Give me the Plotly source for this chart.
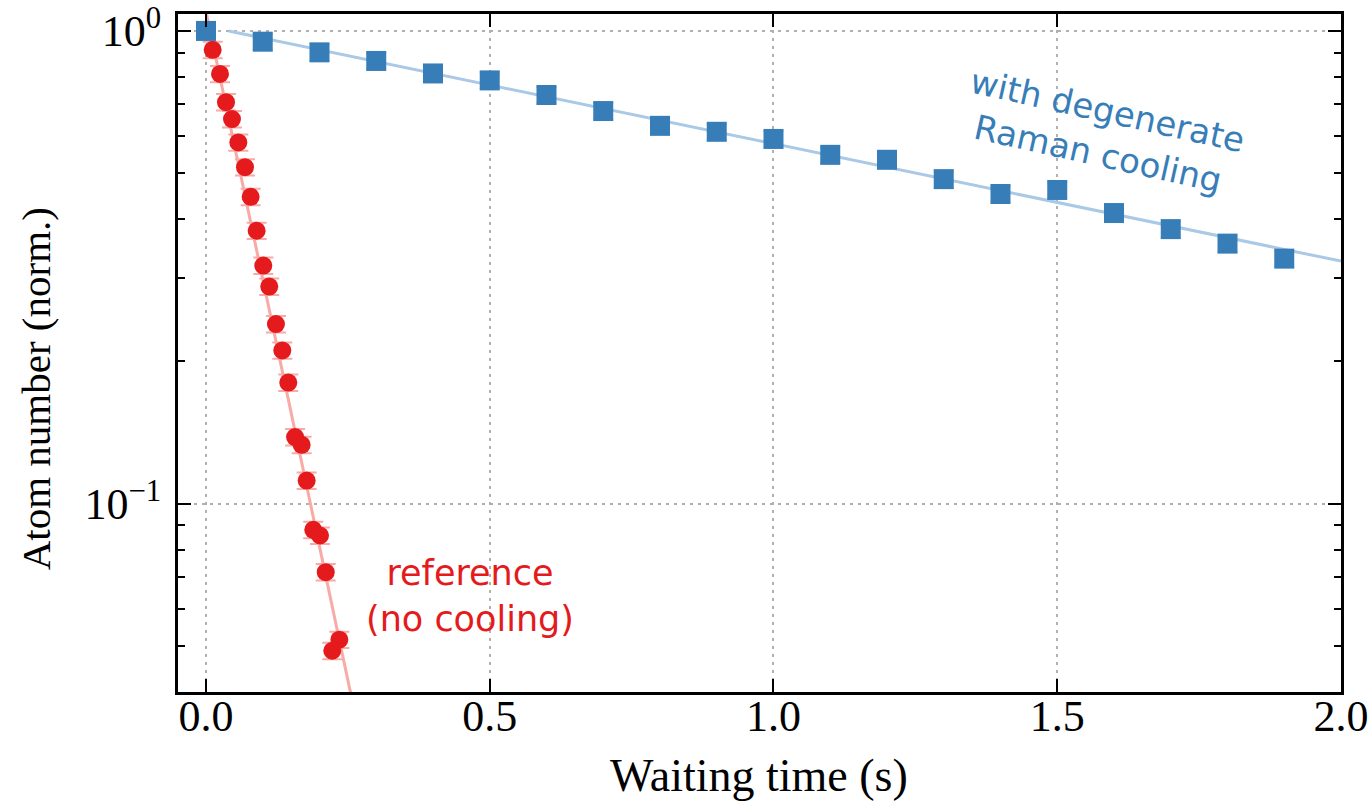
import math
import plotly.graph_objects as go

# ---- data ----
red_t = [0.0, 0.0118, 0.0247, 0.0353, 0.0458, 0.057, 0.0687, 0.0787, 0.0893, 0.101,
         0.1115, 0.1233, 0.1345, 0.145, 0.157, 0.1686, 0.1774, 0.189, 0.2009, 0.211,
         0.2225, 0.235]
red_n = [1.0, 0.912, 0.811, 0.707, 0.651, 0.581, 0.515, 0.446, 0.378, 0.319,
         0.288, 0.240, 0.211, 0.1805, 0.1384, 0.1333, 0.112, 0.0881, 0.0857, 0.0717,
         0.0489, 0.0516]
red_err_pct = 4.0

blue_t = [0.0, 0.1, 0.2, 0.3, 0.4, 0.5, 0.6, 0.7, 0.8, 0.9,
          1.0, 1.1, 1.2, 1.3, 1.4, 1.5, 1.6, 1.7, 1.8, 1.9]
blue_n = [1.0, 0.949, 0.901, 0.864, 0.813, 0.786, 0.732, 0.677, 0.630, 0.612,
          0.591, 0.547, 0.534, 0.486, 0.452, 0.461, 0.412, 0.381, 0.355, 0.330]
blue_err_pct = 4.0

# fit curves (end points; straight on log scale)
red_fit_t = [0.0, 0.26]
red_fit_n = [1.10, 0.0372]
blue_fit_t = [0.04, 2.0]
blue_fit_n = [1.0, 0.326]

x_ticks = [0.0, 0.5, 1.0, 1.5, 2.0]
x_ticktext = ["0.0", "0.5", "1.0", "1.5", "2.0"]
y_ticks = [0.1, 1.0]
y_ticktext = ["10<sup>\u22121</sup>", "10<sup>0</sup>"]
y_minor = [0.04, 0.05, 0.06, 0.07, 0.08, 0.09, 0.2, 0.3, 0.4, 0.5, 0.6, 0.7, 0.8, 0.9]

RED = "#e41a1c"
BLUE = "#377eb8"
RED_LIGHT = "#f8aaa6"
BLUE_LIGHT = "#a9c9e6"

fig = go.Figure()

fig.add_trace(go.Scatter(x=red_fit_t, y=red_fit_n, mode="lines",
                         line=dict(color=RED_LIGHT, width=3), showlegend=False))
fig.add_trace(go.Scatter(x=red_t, y=red_n, mode="markers",
                         marker=dict(symbol="circle", size=18, color=RED),
                         error_y=dict(type="percent", value=red_err_pct, color=RED_LIGHT,
                                      thickness=2, width=10),
                         showlegend=False))
fig.add_trace(go.Scatter(x=blue_fit_t, y=blue_fit_n, mode="lines",
                         line=dict(color=BLUE_LIGHT, width=3), showlegend=False))
fig.add_trace(go.Scatter(x=blue_t, y=blue_n, mode="markers",
                         marker=dict(symbol="square", size=20, color=BLUE),
                         error_y=dict(type="percent", value=blue_err_pct, color=BLUE_LIGHT,
                                      thickness=2, width=10),
                         showlegend=False))

serif = "Liberation Serif, DejaVu Serif, serif"
sans = "DejaVu Sans, sans-serif"

fig.add_annotation(x=1.58, y=-0.214, xref="x", yref="y",
                   text="with degenerate<br>Raman cooling", showarrow=False,
                   textangle=12.5, font=dict(family=sans, size=34, color=BLUE))
fig.add_annotation(x=0.4660, y=-1.1956, xref="x", yref="y",
                   text="reference<br>(no cooling)", showarrow=False,
                   font=dict(family=sans, size=35, color=RED))

# axis titles
fig.add_annotation(xref="paper", yref="paper", x=0.4996, y=0, xanchor="center",
                   yanchor="middle", yshift=-83, showarrow=False,
                   text="Waiting time (s)", font=dict(family=serif, size=46, color="black"))
fig.add_annotation(xref="paper", yref="paper", x=0, y=0.532, xanchor="center",
                   yanchor="middle", xshift=-142, yshift=-58, showarrow=False, textangle=-90,
                   text="Atom number (norm.)", font=dict(family=serif, size=41, color="black"))

axis_common = dict(
    showline=True, linecolor="black", linewidth=3, mirror="ticks",
    ticks="inside", ticklen=13, tickwidth=2, tickcolor="black",
    showgrid=True, gridcolor="#b0b0b0", gridwidth=2, griddash="3px,5px",
    zeroline=False, automargin=False,
    tickfont=dict(family=serif, size=44, color="black"),
)

fig.update_xaxes(range=[-0.0493, 2.0], tickvals=x_ticks, ticktext=x_ticktext,
                 ticklabelstandoff=-17, **axis_common)
fig.update_yaxes(type="log", range=[math.log10(0.04), math.log10(1.086)],
                 tickvals=y_ticks, ticktext=y_ticktext, ticklabelstandoff=5,
                 minor=dict(tickvals=y_minor, ticks="inside", ticklen=7, tickwidth=2,
                            tickcolor="black", showgrid=False),
                 **axis_common)

fig.update_layout(width=1369, height=812,
                  margin=dict(l=178, r=28, t=14, b=120),
                  paper_bgcolor="white", plot_bgcolor="white")

fig.write_html("out.html")
